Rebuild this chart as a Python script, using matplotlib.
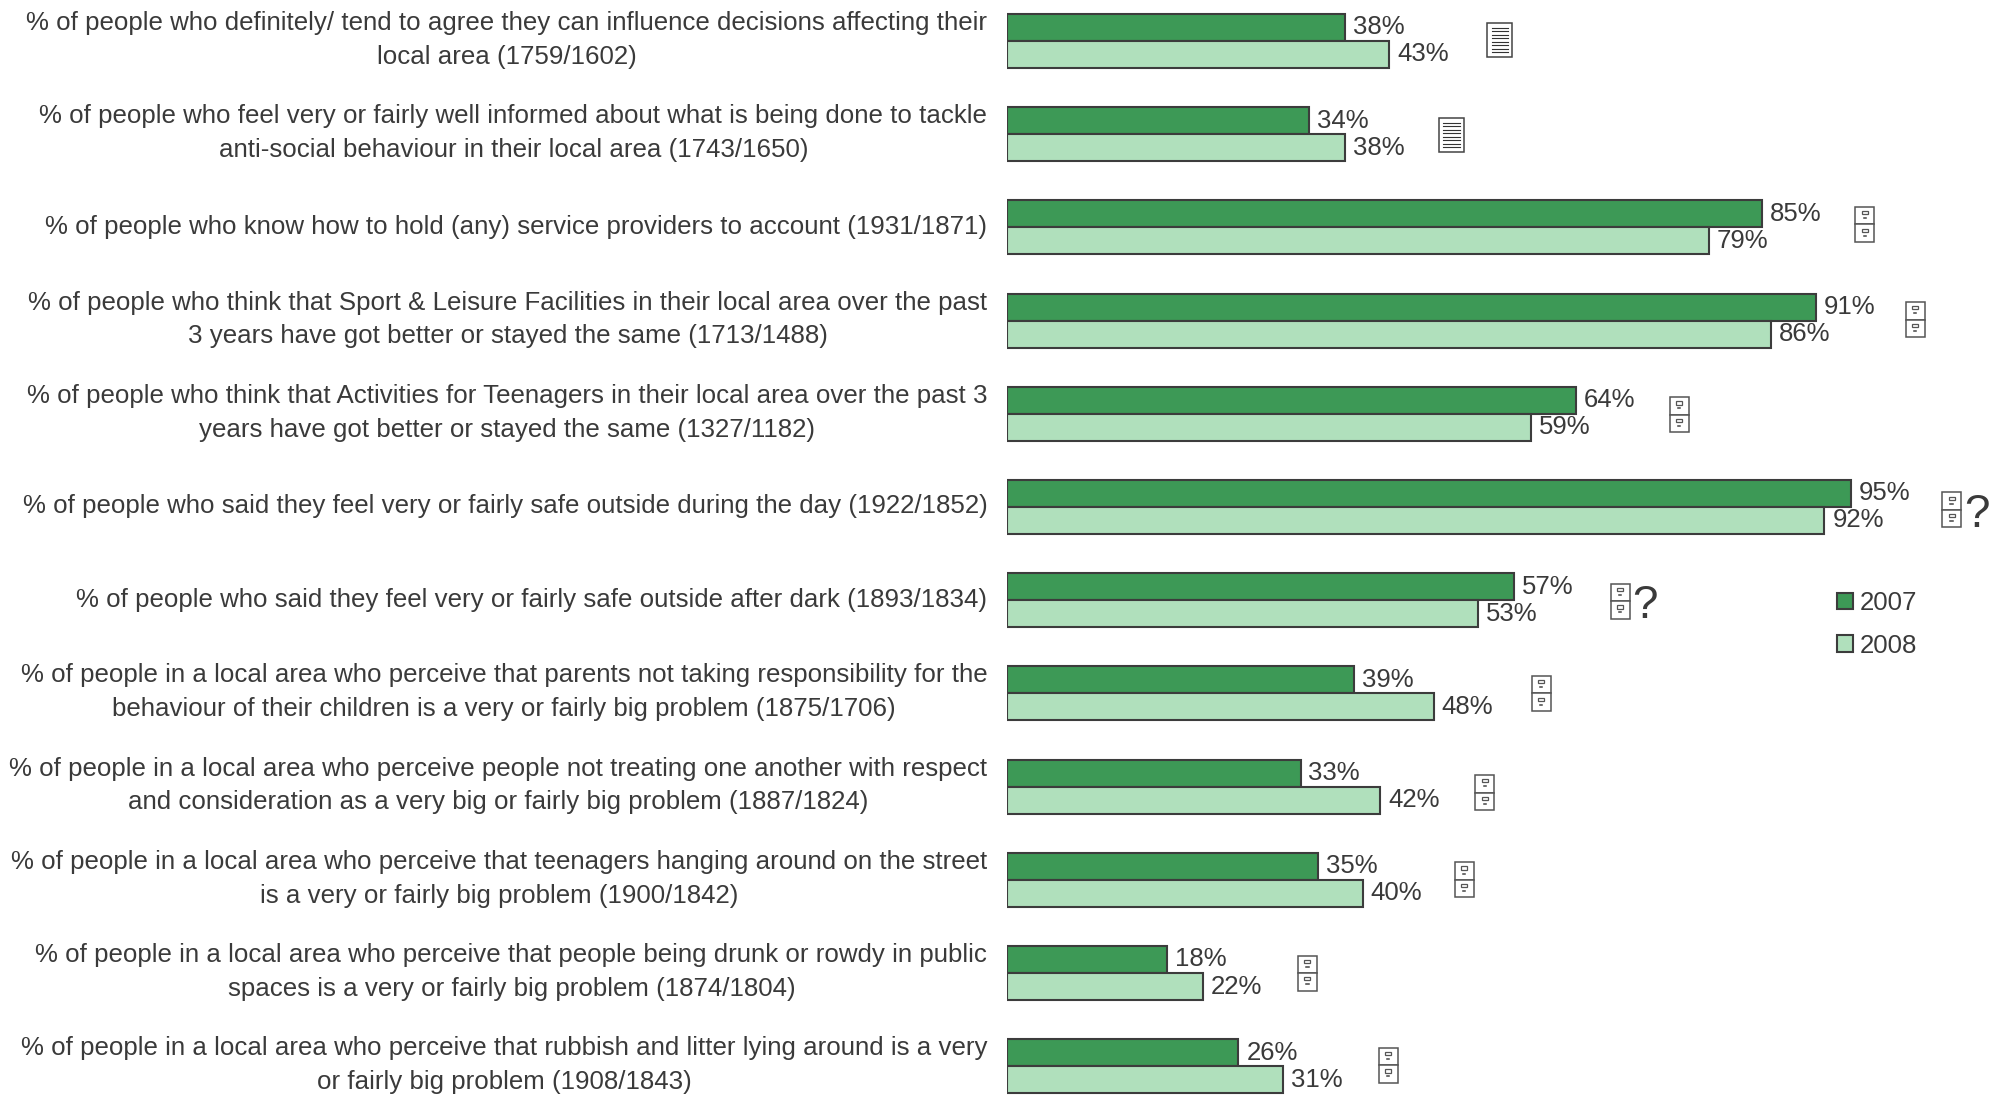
import matplotlib
matplotlib.use('Agg')
import matplotlib.pyplot as plt
import matplotlib.patches as mpatches
import matplotlib.transforms as mtrans
import numpy as np

plt.rcParams['font.family'] = ['Liberation Sans', 'DejaVu Sans']

labels = [
    '% of people who definitely/ tend to agree they can influence decisions affecting their\nlocal area (1759/1602)',
    '% of people who feel very or fairly well informed about what is being done to tackle\nanti-social behaviour in their local area (1743/1650)',
    '% of people who know how to hold (any) service providers to account (1931/1871)',
    '% of people who think that Sport & Leisure Facilities in their local area over the past\n3 years have got better or stayed the same (1713/1488)',
    '% of people who think that Activities for Teenagers in their local area over the past 3\nyears have got better or stayed the same (1327/1182)',
    '% of people who said they feel very or fairly safe outside during the day (1922/1852)',
    '% of people who said they feel very or fairly safe outside after dark (1893/1834)',
    '% of people in a local area who perceive that parents not taking responsibility for the\nbehaviour of their children is a very or fairly big problem (1875/1706)',
    '% of people in a local area who perceive people not treating one another with respect\nand consideration as a very big or fairly big problem (1887/1824)',
    '% of people in a local area who perceive that teenagers hanging around on the street\nis a very or fairly big problem (1900/1842)',
    '% of people in a local area who perceive that people being drunk or rowdy in public\nspaces is a very or fairly big problem (1874/1804)',
    '% of people in a local area who perceive that rubbish and litter lying around is a very\nor fairly big problem (1908/1843)',
]
values_2007 = [38, 34, 85, 91, 64, 95, 57, 39, 33, 35, 18, 26]
values_2008 = [43, 38, 79, 86, 59, 92, 53, 48, 42, 40, 22, 31]
# d = document, c = filing cabinet
icon_kind = ['d', 'd', 'c', 'c', 'c', 'c', 'c', 'c', 'c', 'c', 'c', 'c']
has_question = [False] * 5 + [True, True] + [False] * 5

# icons are not placed very regularly in the original, nudges in pixels
icon_gap = [98, 94, 93, 90, 94, 91, 97, 98, 95, 92, 95, 96]
icon_dy = [-1, 1, -3, -1, 1, 3, 1, 0, 6, 0, 0, -1]

DARK = '#3d9956'
LIGHT = '#b0e0bc'
EDGE = '#3c3c3c'
TEXT = '#3a3a3a'
FS = 18.65

# scale of the axes, in pixels
PX_X = 8.88
PX_Y = 93.2
W, H = 2006, 1096
X0 = 1007.5
Y0 = 41


def draw_document(ax, x, y):
    w, h = 25 / PX_X, 34 / PX_Y
    ax.add_patch(mpatches.Rectangle((x, y - h / 2), w, h, fc='white', ec='#444444', lw=1.1))
    for k in np.linspace(-0.36, 0.36, 8):
        ax.plot([x + 0.17 * w, x + 0.83 * w], [y + k * h, y + k * h], color='#333333', lw=0.8)


def draw_cabinet(ax, x, y):
    w, h = 19 / PX_X, 35 / PX_Y
    for top in [y - h / 2, y]:
        ax.add_patch(mpatches.Rectangle((x, top), w, h / 2, fc='white', ec='#555555', lw=1.1))
        ax.add_patch(mpatches.Rectangle((x + 0.34 * w, top + 0.12 * h), 0.32 * w, 0.09 * h,
                                        fc='white', ec='#555555', lw=0.9))
        ax.plot([x + 0.44 * w, x + 0.56 * w], [top + 0.32 * h] * 2, color='#444444', lw=1.1)


fig = plt.figure(figsize=(W / 100, H / 100), dpi=100)
ax = fig.add_axes([X0 / W, 0, 1 - X0 / W, 1])
y = np.arange(len(labels))
bar_h = 27 / PX_Y

bars_a = ax.barh(y - bar_h / 2, values_2007, bar_h, color=DARK, edgecolor=EDGE, linewidth=1.5, label='2007')
bars_b = ax.barh(y + bar_h / 2, values_2008, bar_h, color=LIGHT, edgecolor=EDGE, linewidth=1.5, label='2008')

ax.set_xlim(0, (W - X0) / PX_X)
ax.set_ylim((H - Y0) / PX_Y, -Y0 / PX_Y)

for bars in [bars_a, bars_b]:
    ax.bar_label(bars, fmt='%d%%', padding=5.7, fontsize=18.5, color=TEXT)

for i in y:
    x_icon = max(values_2007[i], values_2008[i]) + icon_gap[i] / PX_X
    y_icon = i + icon_dy[i] / PX_Y
    if icon_kind[i] == 'd':
        draw_document(ax, x_icon, y_icon)
    else:
        draw_cabinet(ax, x_icon, y_icon)
    if has_question[i]:
        ax.text(x_icon + 22 / PX_X, y_icon + 5 / PX_Y, '?', fontsize=33, color=TEXT, ha='left', va='center')

ax.set_yticks(y, labels, fontsize=FS, color=TEXT, ma='center', linespacing=1.52)
ax.tick_params(axis='y', length=0, pad=14.5)
# the text sits above the middle of each pair of bars, two line labels more so
for lab, txt in zip(ax.get_yticklabels(), labels):
    up = 8.5 if '\n' in txt else 3
    lab.set_transform(lab.get_transform() + mtrans.ScaledTranslation(0, up / 100, fig.dpi_scale_trans))
ax.set_xticks([])
for s in ax.spines.values():
    s.set_visible(False)

leg = ax.legend(handles=[bars_a, bars_b], loc='upper left', bbox_to_anchor=(1837 / W, 1 - 591 / H),
                bbox_transform=fig.transFigure, frameon=False, fontsize=FS, labelcolor=TEXT,
                handlelength=0.6, handleheight=0.6, handletextpad=0.27, labelspacing=0.72,
                borderpad=0, borderaxespad=0)

fig.savefig('out.png', dpi=100)
